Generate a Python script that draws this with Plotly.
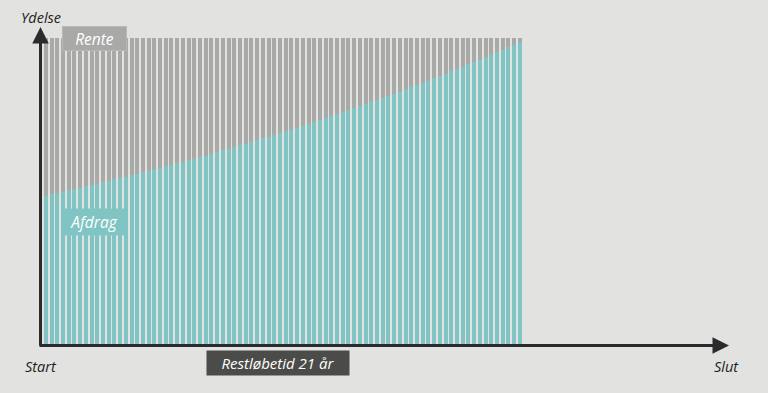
import plotly.graph_objects as go

# Quarterly payments over remaining term of 21 years (84 terms), share of payment in %
periods = list(range(1, 85))
afdrag = [48.5, 48.9, 49.3, 49.8, 50.2, 50.6, 51.1, 51.5, 51.9, 52.4, 52.8, 53.3,
          53.8, 54.2, 54.7, 55.2, 55.6, 56.1, 56.6, 57.1, 57.6, 58.1, 58.6, 59.1,
          59.6, 60.1, 60.6, 61.1, 61.6, 62.2, 62.7, 63.3, 63.8, 64.3, 64.9, 65.5,
          66.0, 66.6, 67.2, 67.7, 68.3, 68.9, 69.5, 70.1, 70.7, 71.3, 71.9, 72.5,
          73.2, 73.8, 74.4, 75.1, 75.7, 76.4, 77.0, 77.7, 78.3, 79.0, 79.7, 80.4,
          81.1, 81.8, 82.5, 83.2, 83.9, 84.6, 85.3, 86.1, 86.8, 87.6, 88.3, 89.1,
          89.8, 90.6, 91.4, 92.2, 93.0, 93.8, 94.6, 95.4, 96.2, 97.0, 97.9, 98.7]
rente = [51.5, 51.1, 50.7, 50.2, 49.8, 49.4, 48.9, 48.5, 48.1, 47.6, 47.2, 46.7,
         46.2, 45.8, 45.3, 44.8, 44.4, 43.9, 43.4, 42.9, 42.4, 41.9, 41.4, 40.9,
         40.4, 39.9, 39.4, 38.9, 38.4, 37.8, 37.3, 36.7, 36.2, 35.7, 35.1, 34.5,
         34.0, 33.4, 32.8, 32.3, 31.7, 31.1, 30.5, 29.9, 29.3, 28.7, 28.1, 27.5,
         26.8, 26.2, 25.6, 24.9, 24.3, 23.6, 23.0, 22.3, 21.7, 21.0, 20.3, 19.6,
         18.9, 18.2, 17.5, 16.8, 16.1, 15.4, 14.7, 13.9, 13.2, 12.4, 11.7, 10.9,
         10.2, 9.4, 8.6, 7.8, 7.0, 6.2, 5.4, 4.6, 3.8, 3.0, 2.1, 1.3]

label_afdrag = "Afdrag"
label_rente = "Rente"
label_y = "Ydelse"
label_start = "Start"
label_slut = "Slut"
label_term = "Restløbetid 21 år"

BG = "#e2e2e0"
TEAL = "#80c4c3"
GRAY = "#a9a9a8"
DARK = "#2b2b2b"
FONT = "Open Sans"

W, H = 768, 393
L, R, T, B = 40, 40, 28, 49
PW, PH = W - L - R, H - T - B


def px(x):
    return (x - L) / PW


def py(y):
    return (H - B - y) / PH


fig = go.Figure()
fig.add_trace(go.Bar(x=periods, y=afdrag, marker=dict(color=TEAL, line=dict(width=0)),
                     name=label_afdrag, hoverinfo="skip"))
fig.add_trace(go.Bar(x=periods, y=rente, marker=dict(color=GRAY, line=dict(width=0)),
                     name=label_rente, hoverinfo="skip"))


def label(x, y, text, size=14, color="#222", **kw):
    return dict(x=px(x), y=py(y), xref="paper", yref="paper", text="<i>" + text + "</i>",
                showarrow=False, xanchor="center", yanchor="middle",
                font=dict(family=FONT, size=size, color=color), **kw)


annotations = [
    # axes with arrows
    dict(x=px(40.5), y=py(27), xref="paper", yref="paper", text="", showarrow=True,
         ax=0, ay=320, axref="pixel", ayref="pixel", arrowhead=2, arrowsize=1.1,
         arrowwidth=3, arrowcolor=DARK, standoff=0),
    dict(x=px(729), y=py(345.5), xref="paper", yref="paper", text="", showarrow=True,
         ax=-691, ay=0, axref="pixel", ayref="pixel", arrowhead=2, arrowsize=1.1,
         arrowwidth=3, arrowcolor=DARK, standoff=0),
    # text labels
    label(41, 17, label_y, size=14.5),
    label(41, 366, label_start, size=14.5),
    label(726, 366, label_slut, size=14.5),
    label(278, 363, label_term, size=15, color="white",
          bgcolor="#4b4b49", width=142, height=24, borderpad=0),
    label(94.5, 38.5, label_rente, size=15.5, color="white",
          bgcolor=GRAY, bordercolor="#b8b8b6", borderwidth=1, width=63, height=23, borderpad=0),
    label(94, 222, label_afdrag, size=15.5, color="white",
          bgcolor=TEAL, width=64, height=26, borderpad=0),
]

fig.update_layout(
    width=W, height=H,
    margin=dict(l=L, r=R, t=T, b=B, pad=0),
    paper_bgcolor=BG, plot_bgcolor=BG,
    barmode="stack", bargap=0.3,
    showlegend=False,
    xaxis=dict(range=[-0.026, 120.47], showgrid=False, zeroline=False, showticklabels=False,
               ticks="", showline=False, fixedrange=True),
    yaxis=dict(range=[0, 103.3], showgrid=False, zeroline=False, showticklabels=False,
               ticks="", showline=False, fixedrange=True),
    annotations=annotations,
)

fig.write_html("out.html", config={"displayModeBar": False})
